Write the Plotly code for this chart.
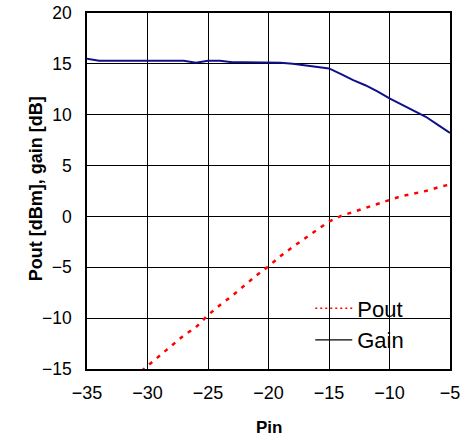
import plotly.graph_objects as go

pin = [-35, -34, -33, -32, -31, -30, -29, -28, -27, -26, -25, -24, -23, -22, -21,
       -20, -19, -18, -17, -16, -15, -14, -13, -12, -11, -10, -9, -8, -7, -6, -5]
gain = [15.5, 15.3, 15.3, 15.3, 15.3, 15.3, 15.3, 15.3, 15.3, 15.1, 15.3, 15.3, 15.15, 15.15, 15.15,
        15.15, 15.1, 15.0, 14.85, 14.7, 14.55, 14.0, 13.4, 12.9, 12.3, 11.6, 11.0, 10.4, 9.8, 9.0, 8.2]
pout = [-19.5, -18.7, -17.7, -16.7, -15.7, -14.7, -13.7, -12.7, -11.7, -10.9, -9.7, -8.7, -7.8, -6.8, -5.8,
        -4.9, -3.9, -3.0, -2.15, -1.35, -0.5, 0.05, 0.45, 0.8, 1.25, 1.65, 2.0, 2.25, 2.5, 2.85, 3.15]

x_ticks = [-35, -30, -25, -20, -15, -10, -5]
y_ticks = [-15, -10, -5, 0, 5, 10, 15, 20]

FONT = "Liberation Sans, Arial, sans-serif"

fig = go.Figure()
fig.add_trace(go.Scatter(x=pin, y=gain, mode="lines", name="Gain", showlegend=False,
                         line=dict(color="#10108a", width=2)))
fig.add_trace(go.Scatter(x=pin, y=pout, mode="lines", name="Pout", showlegend=False,
                         line=dict(color="#ff0000", width=2.5, dash="4px,6px")))
# legend entries
fig.add_trace(go.Scatter(x=[None], y=[None], mode="lines", name="Pout", legendgroup="a",
                         line=dict(color="#ff0000", width=1.5, dash="2px,3px")))
fig.add_trace(go.Scatter(x=[None], y=[None], mode="lines", name="Gain", legendgroup="b",
                         line=dict(color="#000000", width=1.2)))

fig.update_layout(
    width=465, height=443,
    margin=dict(l=87, r=15, t=13, b=74),
    paper_bgcolor="white", plot_bgcolor="white",
    font=dict(family=FONT, color="black", size=18),
    legend=dict(x=0.615, y=0.229, xanchor="left", yanchor="top", itemwidth=37,
                bgcolor="rgba(0,0,0,0)", font=dict(size=22, family=FONT),
                tracegroupgap=2, traceorder="normal"),
    xaxis=dict(range=[-35, -5], tickvals=x_ticks, showgrid=True, gridcolor="black", gridwidth=1,
               showline=True, linecolor="black", linewidth=1.5, mirror=True,
               ticks="", ticklabelstandoff=7, zeroline=False, automargin=False,
               ticklabeloverflow="allow", tickfont=dict(size=18)),
    yaxis=dict(range=[-15, 20], tickvals=y_ticks, showgrid=True, gridcolor="black", gridwidth=1,
               showline=True, linecolor="black", linewidth=1.5, mirror=True,
               ticks="", ticklabelstandoff=10, zeroline=False, automargin=False,
               ticklabeloverflow="allow", tickfont=dict(size=17.5)),
    annotations=[
        dict(text="<b>Pin</b>", xref="paper", yref="paper", x=0.5, y=-0.1657,
             xanchor="center", yanchor="middle", showarrow=False, font=dict(size=17)),
        dict(text="<b>Pout [dBm], gain [dB]</b>", xref="paper", yref="paper", x=-0.1405, y=0.508,
             xanchor="center", yanchor="middle", showarrow=False, textangle=-90,
             font=dict(size=18)),
    ],
)

# remove the default 8px page margin so the 465x443 figure fills the window exactly
fig.write_html("out.html", config={"displayModeBar": False},
               post_script="document.body.style.margin='0';document.body.style.overflow='hidden';")
